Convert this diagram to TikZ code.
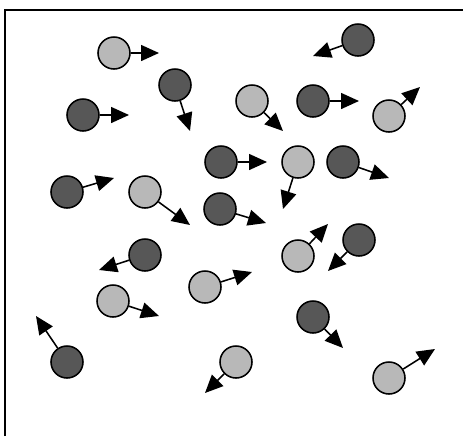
\documentclass[tikz,border=0pt]{standalone}
\usetikzlibrary{arrows.meta}

\begin{document}
\begin{tikzpicture}[x=0.05cm,y=-0.05cm,
		dark/.style={circle,draw,line width=2.2pt,fill=black!66,minimum size=1.6cm,inner sep=0pt},
		light/.style={circle,draw,line width=2.2pt,fill=black!28,minimum size=1.6cm,inner sep=0pt},
		vel/.style={line width=2.2pt,arrows = {-Triangle[length=0.9cm,width=0.8cm]}}]
	\useasboundingbox (0,0) rectangle (463,436);
	% frame (only top and left edges show)
	\draw[line width=2.4pt] (5,436)--(5,10)--(463,10);
	% particles
	\node[light] (l1) at (114,53) {};
	\node[dark] (d1) at (358,40) {};
	\node[dark] (d2) at (175,85) {};
	\node[dark] (d3) at (83,115) {};
	\node[light] (l2) at (252,101) {};
	\node[dark] (d4) at (313,101) {};
	\node[light] (l3) at (389,116) {};
	\node[dark] (d5) at (221,162) {};
	\node[light] (l4) at (298,162) {};
	\node[dark] (d6) at (343,162) {};
	\node[dark] (d7) at (67,192) {};
	\node[light] (l5) at (145,192) {};
	\node[dark] (d8) at (220,209) {};
	\node[dark] (d9) at (145,255) {};
	\node[light] (l6) at (298,256) {};
	\node[dark] (d10) at (359,240) {};
	\node[light] (l7) at (205,287) {};
	\node[light] (l8) at (113,301) {};
	\node[dark] (d11) at (313,317) {};
	\node[dark] (d12) at (67,362) {};
	\node[light] (l9) at (236,362) {};
	\node[light] (l10) at (389,378) {};
	% arrow ends
	\coordinate (l1v) at (159,53);
	\coordinate (d1v) at (313,56);
	\coordinate (d2v) at (190,131);
	\coordinate (d3v) at (129,115);
	\coordinate (l2v) at (283,131);
	\coordinate (d4v) at (359,101);
	\coordinate (l3v) at (420,87);
	\coordinate (d5v) at (267,162);
	\coordinate (l4v) at (283,209);
	\coordinate (d6v) at (389,178);
	\coordinate (d7v) at (114,178);
	\coordinate (l5v) at (190,225);
	\coordinate (d8v) at (266,223);
	\coordinate (d9v) at (99,270);
	\coordinate (l6v) at (328,224);
	\coordinate (d10v) at (328,271);
	\coordinate (l7v) at (252,272);
	\coordinate (l8v) at (159,316);
	\coordinate (d11v) at (343,348);
	\coordinate (d12v) at (36,316);
	\coordinate (l9v) at (205,393);
	\coordinate (l10v) at (435,349);
	% velocities
	\draw[vel] (l1)--(l1v);
	\draw[vel] (d1)--(d1v);
	\draw[vel] (d2)--(d2v);
	\draw[vel] (d3)--(d3v);
	\draw[vel] (l2)--(l2v);
	\draw[vel] (d4)--(d4v);
	\draw[vel] (l3)--(l3v);
	\draw[vel] (d5)--(d5v);
	\draw[vel] (l4)--(l4v);
	\draw[vel] (d6)--(d6v);
	\draw[vel] (d7)--(d7v);
	\draw[vel] (l5)--(l5v);
	\draw[vel] (d8)--(d8v);
	\draw[vel] (d9)--(d9v);
	\draw[vel] (l6)--(l6v);
	\draw[vel] (d10)--(d10v);
	\draw[vel] (l7)--(l7v);
	\draw[vel] (l8)--(l8v);
	\draw[vel] (d11)--(d11v);
	\draw[vel] (d12)--(d12v);
	\draw[vel] (l9)--(l9v);
	\draw[vel] (l10)--(l10v);
\end{tikzpicture}
\end{document}
